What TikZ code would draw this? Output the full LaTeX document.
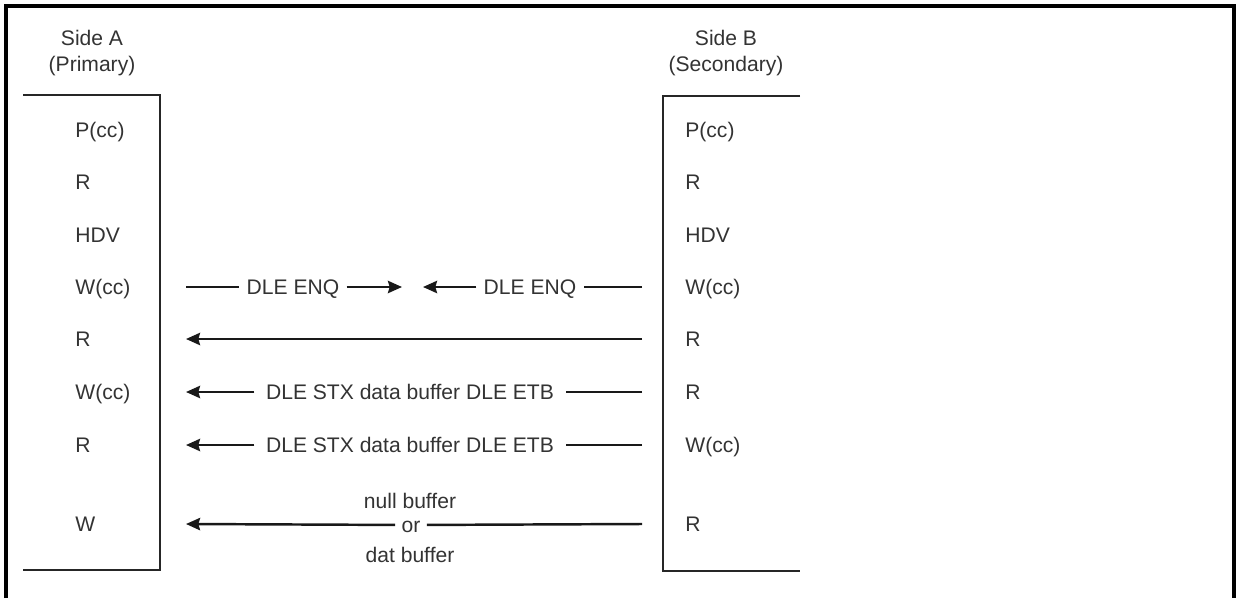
\documentclass[tikz,border=0pt]{standalone}
\usepackage{fontspec}
\setmainfont{Liberation Sans}
\usetikzlibrary{arrows.meta}

\tikzset{
  lbl/.style={anchor=west,inner sep=0pt,text height=8.6pt,text depth=0pt,text=black!80},
  msg/.style={inner xsep=4pt,inner ysep=0pt,text height=8.6pt,text depth=0pt,text=black!80},
  hdr/.style={anchor=north,align=center,inner sep=0pt,text=black!80},
  station/.style={draw=black!85,line width=1.4pt},
  sig/.style={draw=black!90,line width=1.4pt},
}

\begin{document}
\begin{tikzpicture}[x=0.02cm,y=-0.02cm,>={Stealth[length=8pt,width=7pt,inset=1pt]},font=\fontsize{12}{14.7}\selectfont]
\useasboundingbox (0,0) rectangle (1236,598);
% outer frame, open at the bottom
\draw[line width=2pt] (6,598) -- (6,6) -- (1234,6) -- (1234,598);
% the two stations
\node[hdr] (hdA) at (92,30) {Side A\\(Primary)};
\node[hdr] (hdB) at (726,30) {Side B\\(Secondary)};
\draw[station] (23,95) -- (160,95) -- (160,570) -- (23,570);
\draw[station] (800,96) -- (663,96) -- (663,571) -- (800,571);
% what each side does, row by row
\foreach \y/\a/\b [count=\i] in {130/P(cc)/P(cc),182/R/R,235/HDV/HDV,287/W(cc)/W(cc),339/R/R,392/W(cc)/R,445/R/W(cc),524/W/R}{
  \node[lbl] (la\i) at (75,\y) {\a};
  \node[lbl] (lb\i) at (685,\y) {\b};
  \coordinate (ea\i) at (186,\y);
  \coordinate (eb\i) at (642,\y);
}
% bid for the line from both sides
\node[msg] (enqA) at (293,287) {DLE ENQ};
\node[msg] (enqB) at (530,287) {DLE ENQ};
\coordinate (tipA) at (402,287);
\coordinate (tipB) at (423,287);
\draw[sig] (ea4) -- (enqA);
\draw[sig,->] (enqA) -- (tipA);
\draw[sig] (eb4) -- (enqB);
\draw[sig,->] (enqB) -- (tipB);
% B answers
\draw[sig,->] (eb5) -- (ea5);
% data blocks
\node[msg,inner xsep=6.5pt] (stx6) at (410,392) {DLE STX data buffer DLE ETB};
\draw[sig] (eb6) -- (stx6);
\draw[sig,->] (stx6) -- (ea6);
\node[msg,inner xsep=6.5pt] (stx7) at (410,445) {DLE STX data buffer DLE ETB};
\draw[sig] (eb7) -- (stx7);
\draw[sig,->] (stx7) -- (ea7);
% last block
\node[msg,inner xsep=3.5pt] (orlbl) at (411,525) {or};
\node[anchor=base,text=black!80] (nullbuf) at (410,508) {null buffer};
\node[anchor=base,text=black!80] (datbuf) at (410,562) {dat buffer};
\draw[sig] (eb8) -- (orlbl);
\draw[sig,->] (orlbl) -- (ea8);
\end{tikzpicture}
\end{document}
